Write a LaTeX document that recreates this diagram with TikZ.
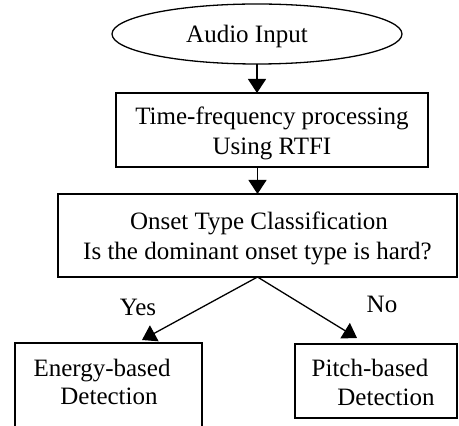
\documentclass[tikz,border=0pt]{standalone}
\usepackage{fontspec}
\setmainfont{Liberation Serif}
\usetikzlibrary{shapes.geometric,arrows.meta}
\begin{document}
\begin{tikzpicture}[x=1pt,y=1pt,
  every node/.style={inner sep=0pt, outer sep=0pt},
  frame/.style={draw, line width=1.5pt, rectangle},
  txt/.style={font=\fontsize{25}{30}\selectfont, anchor=base},
  flow/.style={draw, line width=1.3pt, -{Triangle[length=14pt,width=18pt]}}]
\useasboundingbox (0,0) rectangle (459,426);

% start terminal
\node[draw, ellipse, line width=1.3pt, minimum width=290pt, minimum height=60pt] (input) at (257,392) {};
\node[txt] (inputtxt) at (247,383) {Audio Input};

% time-frequency stage
\node[frame, minimum width=312pt, minimum height=74pt] (tf) at (272,296) {};
\node[txt] (tfa) at (272,301) {Time-frequency processing};
\node[txt] (tfb) at (272,271) {Using RTFI};

% classification stage
\node[frame, minimum width=399pt, minimum height=83pt] (cls) at (257.5,190.5) {};
\node[txt] (clsa) at (259,196) {Onset Type Classification};
\node[txt] (clsb) at (257.5,166) {Is the dominant onset type is hard?};

% detectors
\node[frame, minimum width=187pt, minimum height=97pt] (energy) at (108.5,34.5) {};
\node[txt] (energya) at (102,49) {Energy-based};
\node[txt] (energyb) at (109,21) {Detection};

\node[frame, minimum width=162pt, minimum height=74pt] (pitch) at (376,45) {};
\node[txt] (pitcha) at (370,49) {Pitch-based};
\node[txt] (pitchb) at (386,20) {Detection};

% branch labels
\node[txt] (yes) at (138,110) {Yes};
\node[txt] (no) at (382,113) {No};

% connectors
\draw[flow] (input.south) -- (input.south |- tf.north);
\draw[flow] (cls.north |- tf.south) -- (cls.north);
\draw[flow] (cls.south) -- ([xshift=33.5pt,yshift=3pt]energy.north);
\draw[flow] (cls.south) -- ([xshift=-19pt,yshift=6pt]pitch.north);
\end{tikzpicture}
\end{document}
